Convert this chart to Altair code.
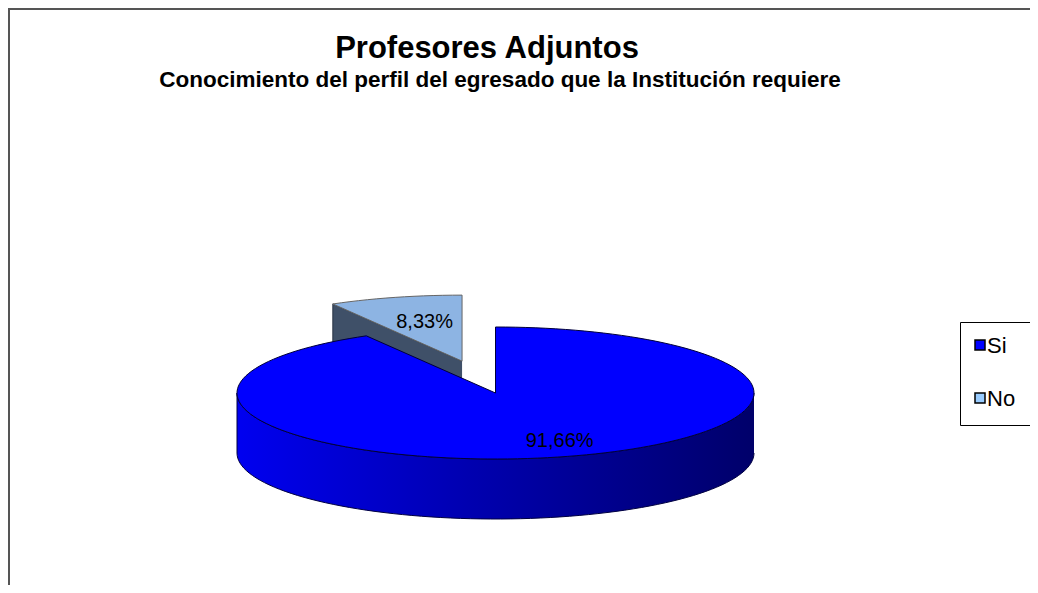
import numpy as np
import pandas as pd
import altair as alt

# ---- data ----
categories = ["Si", "No"]
values = [91.66, 8.33]
value_labels = ["91,66%", "8,33%"]
top_colors = ["#0000FF", "#8DB4E3"]
legend_colors = ["#0000FF", "#99CCFF"]
exploded = [0.0, 0.5]

title_text = "Profesores Adjuntos"
subtitle_text = "Conocimiento del perfil del egresado que la Institución requiere"

# ---- layout (pixels of the drawing area) ----
W, H = 1022, 577
CX, CY = 487.5, 385.0
RA, RB = 258.5, 66.0
DEPTH = 60.0
NSEG = 160
LABEL_R = [0.75, 0.62]
LABEL_DX = [14, 4]
FONT = "Liberation Sans"

total = float(sum(values))
cum = np.cumsum([0.0] + values)
starts = cum[:-1] / total * 360.0
ends = cum[1:] / total * 360.0


def pt(cx, cy, th, r=1.0):
    t = np.radians(th)
    return cx + r * RA * np.sin(t), cy - r * RB * np.cos(t)


def arc(cx, cy, a0, a1, dy=0.0):
    n = max(2, int(abs(a1 - a0) / 360 * NSEG) + 2)
    th = np.linspace(a0, a1, n)
    xs, ys = pt(cx, cy, th)
    return list(zip(xs, ys + dy))


polys = []  # (name, points, fill, stroke)
label_rows = []
for k in reversed(range(len(categories))):
    s, e = starts[k], ends[k]
    mid = (s + e) / 2
    cx, cy = pt(CX, CY, mid, exploded[k])
    # visible radial face at start angle
    if np.cos(np.radians(s - 90)) < -1e-6:
        ox, oy = pt(cx, cy, s)
        polys.append((f"rad_{k}", [(cx, cy), (ox, oy), (ox, oy + DEPTH), (cx, cy + DEPTH)],
                      "#3F5068", "#2a3545"))
    # front side band
    a0, a1 = max(s, 90), min(e, 270)
    if a1 > a0:
        top = arc(cx, cy, a0, a1)
        bot = arc(cx, cy, a1, a0, DEPTH)
        polys.append((f"side_{k}", top + bot,
                      alt.Gradient(gradient="linear", x1=0, x2=1, y1=0, y2=0,
                                   stops=[alt.GradientStop(color="#0000F0", offset=0),
                                          alt.GradientStop(color="#0000B0", offset=0.45),
                                          alt.GradientStop(color="#00006A", offset=1)]),
                      "#000040"))
    # top face
    polys.append((f"top_{k}", [(cx, cy)] + arc(cx, cy, s, e) + [(cx, cy)],
                  top_colors[k], "#00003A" if k == 0 else "#666666"))
    lx, ly = pt(cx, cy, mid, LABEL_R[k])
    label_rows.append({"x": lx + LABEL_DX[k], "y": ly, "t": value_labels[k]})

xs = alt.Scale(domain=[0, W], nice=False, zero=False)
ys = alt.Scale(domain=[0, H], reverse=True, nice=False, zero=False)

layers = []
for name, pts, fill, stroke in polys:
    df = pd.DataFrame({"i": range(len(pts)),
                       "x": [p[0] for p in pts],
                       "y": [p[1] for p in pts]})
    layers.append(
        alt.Chart(df).mark_line(fill=fill, stroke=stroke, strokeWidth=1, strokeJoin="round")
        .encode(x=alt.X("x:Q", scale=xs, axis=None),
                y=alt.Y("y:Q", scale=ys, axis=None),
                order=alt.Order("i:Q"))
    )

labels_df = pd.DataFrame(label_rows)
layers.append(
    alt.Chart(labels_df).mark_text(font=FONT, fontSize=20, color="#000000",
                                   align="center", baseline="middle")
    .encode(x=alt.X("x:Q", scale=xs, axis=None),
            y=alt.Y("y:Q", scale=ys, axis=None),
            text="t:N")
)

# titles
layers.append(
    alt.Chart(pd.DataFrame({"t": [title_text]})).mark_text(
        font=FONT, fontSize=31, fontWeight="bold", align="center", baseline="alphabetic")
    .encode(x=alt.value(479), y=alt.value(50), text="t:N")
)
layers.append(
    alt.Chart(pd.DataFrame({"t": [subtitle_text]})).mark_text(
        font=FONT, fontSize=22.5, fontWeight="bold", align="center", baseline="alphabetic")
    .encode(x=alt.value(492), y=alt.value(79), text="t:N")
)

# legend box (right edge lies outside the visible area)
box = dict(color="#000000", strokeWidth=1)
layers.append(
    alt.Chart(pd.DataFrame({"a": [0]})).mark_rule(**box)
    .encode(x=alt.value(952.5), x2=alt.value(W + 20), y=alt.value(314.5))
)
layers.append(
    alt.Chart(pd.DataFrame({"a": [0]})).mark_rule(**box)
    .encode(x=alt.value(952.5), x2=alt.value(W + 20), y=alt.value(417.5))
)
layers.append(
    alt.Chart(pd.DataFrame({"a": [0]})).mark_rule(**box)
    .encode(x=alt.value(952.5), y=alt.value(314.5), y2=alt.value(417.5))
)
leg = pd.DataFrame({"cat": categories, "col": legend_colors, "row": range(len(categories))})
layers.append(
    alt.Chart(leg).mark_square(size=100, stroke="#000000", strokeWidth=1.5, opacity=1)
    .transform_calculate(ly="337 + 53*datum.row")
    .encode(x=alt.value(972), y=alt.Y("ly:Q", scale=ys, axis=None),
            fill=alt.Fill("col:N", scale=None))
)
layers.append(
    alt.Chart(leg).mark_text(font=FONT, fontSize=22, align="left", baseline="middle", color="#000")
    .transform_calculate(ly="338 + 53*datum.row")
    .encode(x=alt.value(979), y=alt.Y("ly:Q", scale=ys, axis=None), text="cat:N")
)

# chart border (top and left edges visible)
layers.append(
    alt.Chart(pd.DataFrame({"a": [0]})).mark_rule(color="#555555", strokeWidth=2)
    .encode(x=alt.value(1), y=alt.value(0), y2=alt.value(H + 20))
)
layers.append(
    alt.Chart(pd.DataFrame({"a": [0]})).mark_rule(color="#555555", strokeWidth=2)
    .encode(x=alt.value(0), x2=alt.value(W + 20), y=alt.value(1))
)

chart = alt.layer(*layers).properties(
    width=W, height=H,
    autosize=alt.AutoSizeParams(type="none"),
    padding=0, background="white"
).configure_view(stroke=None)

chart.save("out.html", embed_options={"renderer": "svg", "actions": False})
